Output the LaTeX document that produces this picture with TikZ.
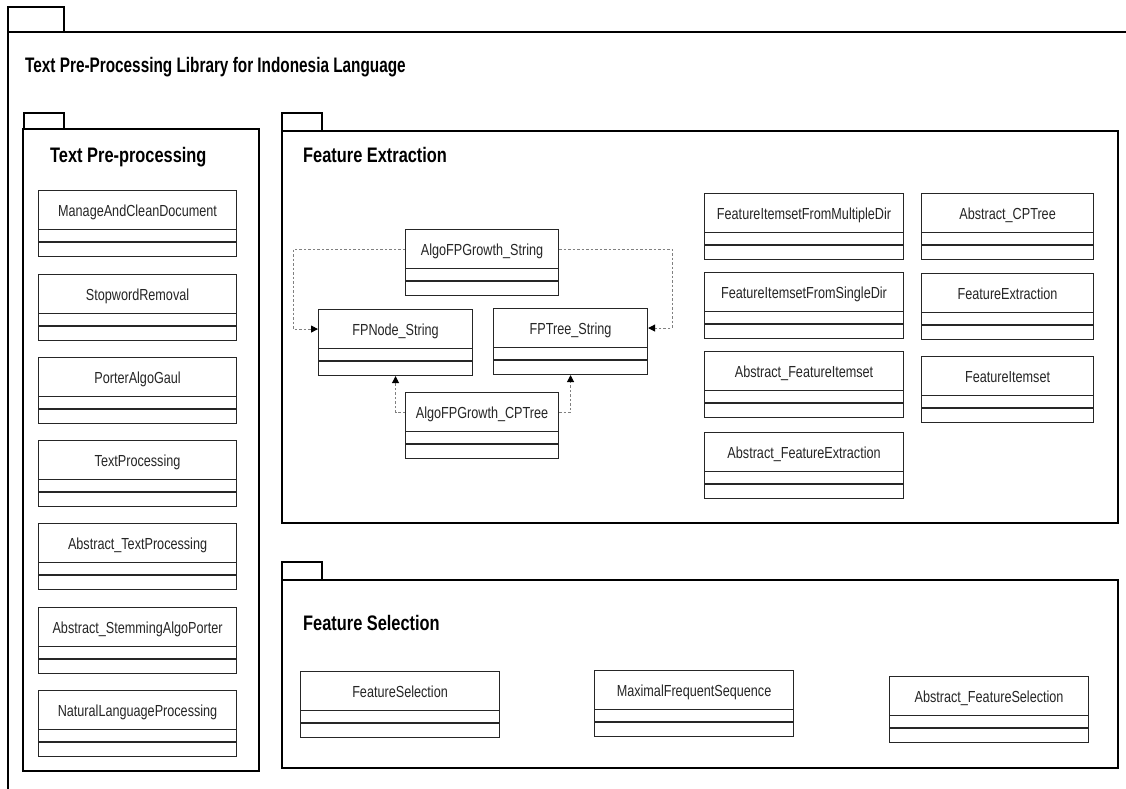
\documentclass[tikz,border=0pt]{standalone}
\usepackage{fontspec}
\setmainfont{Liberation Sans}
\newfontfamily\clsfont{Liberation Sans}[FakeStretch=0.79]
\newfontfamily\pkgfont{Liberation Sans}[FakeStretch=0.78]
\newfontfamily\mainttlfont{Liberation Sans}[FakeStretch=0.73]
\usetikzlibrary{arrows.meta,calc}
\tikzset{
  x=1pt, y=-1pt,
  pkgline/.style={line width=2pt, black},
  classhead/.style={draw=black!85, line width=1.1pt, minimum height=39pt, inner sep=0pt,
    text height=13pt, text depth=0pt, font=\clsfont\fontsize{16}{18}\selectfont, text=black!85},
  classbody/.style={draw=black!85, line width=1.1pt, minimum height=66pt, inner sep=0pt},
  classline/.style={draw=black!85, line width=1.1pt},
  pkgtitle/.style={anchor=base west, inner sep=0pt, font=\pkgfont\bfseries\fontsize{21}{24}\selectfont},
  dep/.style={draw=black!50, line width=1pt, dash pattern=on 2.5pt off 2pt,
    -{Triangle[length=7pt,width=7pt,black]}},
}
\newcommand\umlclass[5]{%
  \node[classbody, minimum width=#4pt, anchor=north west] (#1) at (#2,#3) {};
  \node[classhead, minimum width=#4pt, anchor=north west] (#1-h) at (#2,#3) {#5};
  \draw[classline] (#1.north west) ++(0,52) -- ++(#4,0);
}
\begin{document}
\begin{tikzpicture}
\useasboundingbox (0,0) rectangle (1126,789);
\fill[white] (0,0) rectangle (1126,789);
% outer package
\draw[pkgline] (8,32) rectangle (64,7);
\draw[pkgline] (8,800) -- (8,32) -- (1140,32);
\node[anchor=base west, inner sep=0pt, font=\mainttlfont\bfseries\fontsize{21}{24}\selectfont] (maintitle) at (25,73) {Text Pre-Processing Library for Indonesia Language};
% Text Pre-processing package
\draw[pkgline] (24,129) rectangle (64,113);
\draw[pkgline] (23,129) rectangle (259,771);
\node[pkgtitle] (tpptitle) at (50,162) {Text Pre-processing};
% Feature Extraction package
\draw[pkgline] (282,131) rectangle (322,113);
\draw[pkgline] (282,131) rectangle (1118,523);
\node[pkgtitle] (fetitle) at (303,162) {Feature Extraction};
% Feature Selection package
\draw[pkgline] (282,580) rectangle (322,562);
\draw[pkgline] (282,580) rectangle (1118,768);
\node[pkgtitle] (fstitle) at (303,630) {Feature Selection};
% left classes
\umlclass{macd}{38}{190}{198}{ManageAndCleanDocument}
\umlclass{swr}{38}{274}{198}{StopwordRemoval}
\umlclass{pag}{38}{357}{198}{PorterAlgoGaul}
\umlclass{tp}{38}{440}{198}{TextProcessing}
\umlclass{atp}{38}{523}{198}{Abstract\_TextProcessing}
\umlclass{asap}{38}{607}{198}{Abstract\_StemmingAlgoPorter}
\umlclass{nlp}{38}{690}{198}{NaturalLanguageProcessing}
% feature extraction classes
\umlclass{afs}{405}{229}{153}{AlgoFPGrowth\_String}
\umlclass{fpn}{318}{309}{154}{FPNode\_String}
\umlclass{fpt}{493}{308}{154}{FPTree\_String}
\umlclass{acp}{405}{392}{153}{AlgoFPGrowth\_CPTree}
\umlclass{fimd}{704}{193}{199}{FeatureItemsetFromMultipleDir}
\umlclass{fisd}{704}{272}{199}{FeatureItemsetFromSingleDir}
\umlclass{afi}{704}{351}{199}{Abstract\_FeatureItemset}
\umlclass{afe}{704}{432}{199}{Abstract\_FeatureExtraction}
\umlclass{acpt}{921}{193}{172}{Abstract\_CPTree}
\umlclass{fe}{921}{273}{172}{FeatureExtraction}
\umlclass{fi}{921}{356}{172}{FeatureItemset}
% feature selection classes
\umlclass{fs}{300}{671}{199}{FeatureSelection}
\umlclass{mfs}{594}{670}{199}{MaximalFrequentSequence}
\umlclass{afsel}{889}{676}{199}{Abstract\_FeatureSelection}
% dependencies
\coordinate (lx) at (293,0);
\coordinate (rx) at (672,0);
\draw[dep] (afs-h.west) -- (afs-h.west -| lx) |- (fpn-h.west);
\draw[dep] (afs-h.east) -- (afs-h.east -| rx) |- (fpt-h.east);
\draw[dep] (acp-h.west) -| (fpn.south);
\draw[dep] (acp-h.east) -| (fpt.south);
\end{tikzpicture}
\end{document}
